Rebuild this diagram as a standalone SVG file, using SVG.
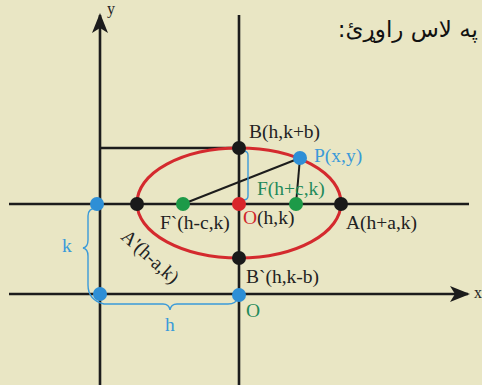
<svg xmlns="http://www.w3.org/2000/svg" width="482" height="385" viewBox="0 0 482 385">
<defs>
<style>
.ln{stroke:#1c1c1c;stroke-width:2.6;fill:none}
.thin{stroke:#1c1c1c;stroke-width:2;fill:none}
.br{stroke:#3a9ad9;stroke-width:1.4;fill:none}
.t{font-family:"Liberation Serif",serif;font-size:19.5px;fill:#222}
.tb{fill:#3a9ad9}
.tg{fill:#1f8a5a}
.tr{fill:#d0262c}
.blk{fill:#1a1a1a}
.blu{fill:#2e8fd6}
.grn{fill:#1d9a48}
.red{fill:#d9252a}
</style>
<marker id="ah" viewBox="0 0 20 16" refX="18" refY="8" markerWidth="20" markerHeight="16" markerUnits="userSpaceOnUse" orient="auto">
<path d="M0,0 L20,8 L0,16 L5,8 Z" fill="#1c1c1c"/>
</marker>
</defs>
<rect width="482" height="385" fill="#e9e6c4"/>
<g id="connectors">
<line class="ln" x1="100" y1="385" x2="100" y2="15" marker-end="url(#ah)"/>
<line class="ln" x1="9" y1="294" x2="468" y2="294" marker-end="url(#ah)"/>
<line class="ln" x1="239" y1="15" x2="239" y2="385"/>
<line class="ln" x1="9" y1="204" x2="469" y2="204"/>
<line class="ln" x1="100" y1="148" x2="239" y2="148"/>
<ellipse cx="239" cy="203" rx="102" ry="55" fill="none" stroke="#d42a2e" stroke-width="3"/>
<line class="thin" x1="183" y1="204" x2="300" y2="158"/>
<line class="thin" x1="300" y1="158" x2="296" y2="204"/>
<path class="br" d="M243,151 Q248,151 248,155 L248,196 Q248,200 243,200"/>
<path class="br" d="M97,208 Q88,208 88,216 L88,240 Q88,247 83,248 Q88,249 88,256 L88,285 Q88,300 104,304 L163,304 Q169,304 170,310 Q171,304 177,304 L228,304 Q236,304 239,297"/>
</g>
<g id="nodes">
<g id="p-left"><circle class="blu" cx="97" cy="204" r="7"/></g>
<g id="p-origin"><circle class="blu" cx="100" cy="294" r="7"/></g>
<g id="p-bottom"><circle class="blu" cx="239" cy="295" r="7"/></g>
<g id="A1"><circle class="blk" cx="137" cy="204" r="7"/></g>
<g id="A"><circle class="blk" cx="341" cy="204" r="7"/></g>
<g id="B"><circle class="blk" cx="239" cy="148" r="7"/></g>
<g id="B1"><circle class="blk" cx="239" cy="258" r="7"/></g>
<g id="F1"><circle class="grn" cx="183" cy="204" r="7"/></g>
<g id="F"><circle class="grn" cx="296" cy="204" r="7"/></g>
<g id="O"><circle class="red" cx="239" cy="204" r="7"/></g>
<g id="P"><circle class="blu" cx="300" cy="158" r="7"/></g>
</g>
<g id="labels">
<text class="t" x="107" y="14" style="font-size:16px">y</text>
<text class="t" x="474" y="298" style="font-size:16px">x</text>
<text x="478" y="37" direction="rtl" text-anchor="start" style="font-family:'DejaVu Sans','Noto Sans',sans-serif;font-size:23px;fill:#111">په لاس راوړئ:</text>
<text class="t" x="249" y="138">B(h,k+b)</text>
<text class="t tb" x="314" y="162">P(x,y)</text>
<text class="t tg" x="257" y="195">F(h+c,k)</text>
<text class="t" x="160" y="229">F`(h-c,k)</text>
<text class="t" x="243" y="224"><tspan class="tr">O</tspan>(h,k)</text>
<text class="t" x="346" y="229">A(h+a,k)</text>
<text class="t" x="246" y="283">B`(h,k-b)</text>
<text class="t tg" x="246" y="317">O</text>
<text class="t tb" x="62" y="252">k</text>
<text class="t tb" x="165" y="331">h</text>
<text class="t" transform="translate(120,238) rotate(42)">A'(h-a,k)</text>
</g>
</svg>
